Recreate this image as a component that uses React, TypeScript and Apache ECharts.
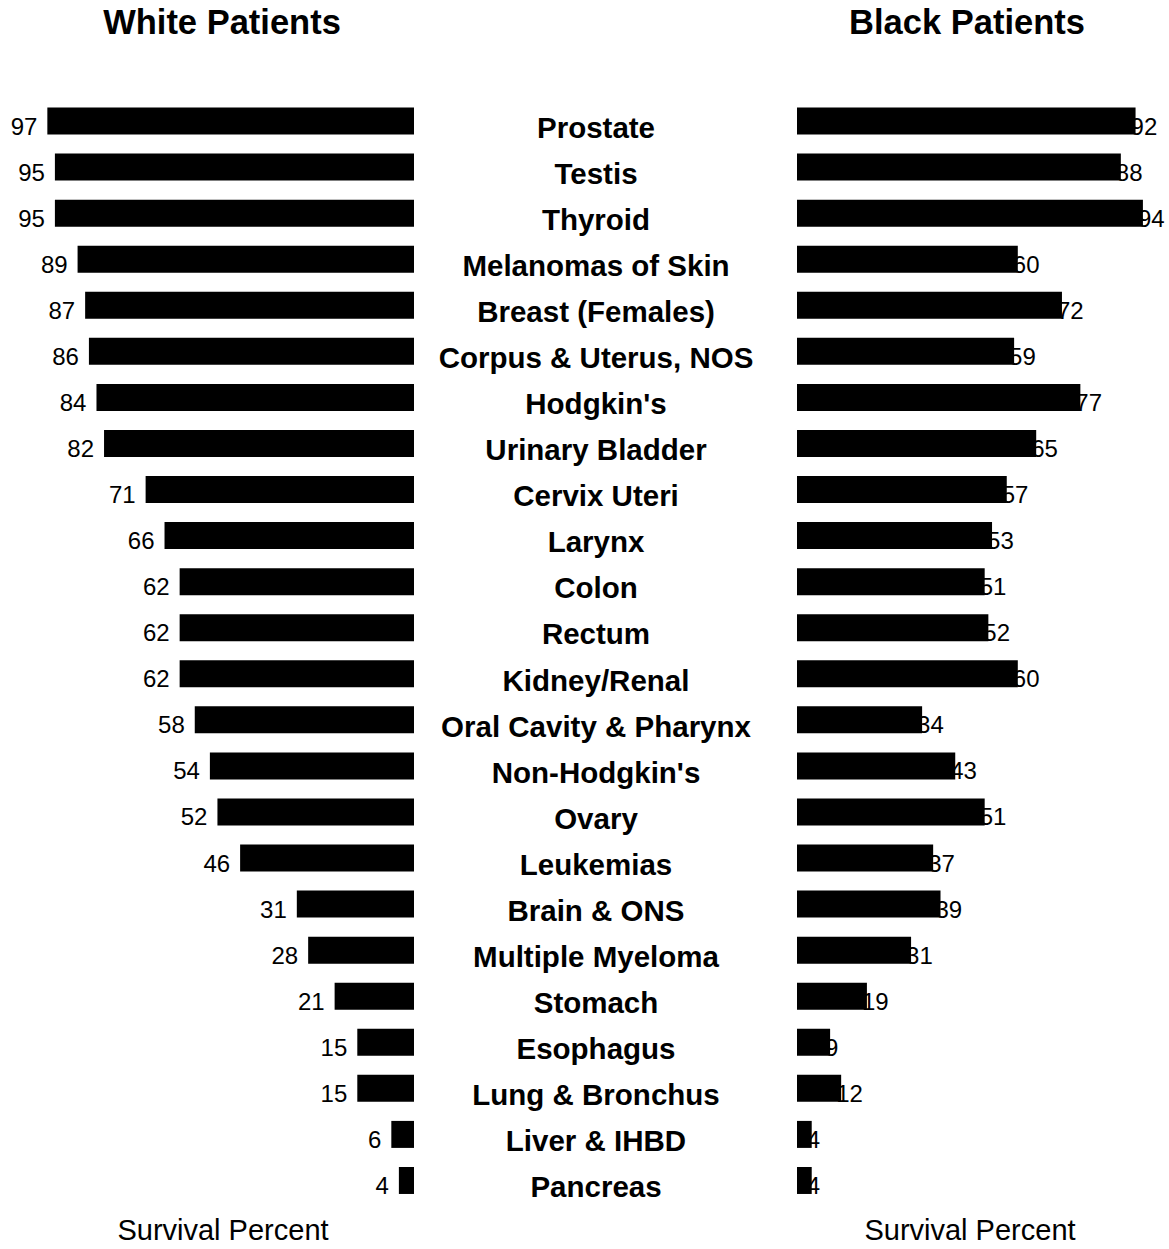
import React, { useEffect, useRef } from "react";
import * as echarts from "echarts";

const categories = [
  "Prostate", "Testis", "Thyroid", "Melanomas of Skin", "Breast (Females)",
  "Corpus & Uterus, NOS", "Hodgkin's", "Urinary Bladder", "Cervix Uteri", "Larynx",
  "Colon", "Rectum", "Kidney/Renal", "Oral Cavity & Pharynx", "Non-Hodgkin's",
  "Ovary", "Leukemias", "Brain & ONS", "Multiple Myeloma", "Stomach",
  "Esophagus", "Lung & Bronchus", "Liver & IHBD", "Pancreas",
];
const whiteSurvival = [97, 95, 95, 89, 87, 86, 84, 82, 71, 66, 62, 62, 62, 58, 54, 52, 46, 31, 28, 21, 15, 15, 6, 4];
const blackSurvival = [92, 88, 94, 60, 72, 59, 77, 65, 57, 53, 51, 52, 60, 34, 43, 51, 37, 39, 31, 19, 9, 12, 4, 4];
const leftTitle = "White Patients";
const rightTitle = "Black Patients";
const axisTitle = "Survival Percent";

const FONT = '"Liberation Sans", Arial, sans-serif';

export default function App() {
  const ref = useRef<HTMLDivElement>(null);
  useEffect(() => {
    document.body.style.margin = "0";
    if (!ref.current) return;
    const chart = echarts.init(ref.current, undefined, { renderer: "svg" });
    const hiddenAxis = {
      axisLine: { show: false },
      axisTick: { show: false },
      axisLabel: { show: false },
      splitLine: { show: false },
    };
    chart.setOption({
      animation: false,
      backgroundColor: "#fff",
      textStyle: { fontFamily: FONT, color: "#000" },
      grid: [
        { left: 36, width: 378, top: 98, height: 1106 },
        { left: 797, width: 368, top: 98, height: 1106 },
        { left: 36, width: 378, top: 104, height: 1106 },
      ],
      xAxis: [
        {
          type: "value", gridIndex: 0, min: 0, max: 100, inverse: true,
          ...hiddenAxis,
          name: axisTitle, nameLocation: "middle", nameGap: 26,
          nameTextStyle: { fontSize: 29, color: "#000", fontFamily: FONT, verticalAlign: "middle", padding: [0, 4, 0, 0] },
        },
        {
          type: "value", gridIndex: 1, min: 0, max: 100,
          ...hiddenAxis,
          name: axisTitle, nameLocation: "middle", nameGap: 26,
          nameTextStyle: { fontSize: 29, color: "#000", fontFamily: FONT, verticalAlign: "middle", padding: [0, 22, 0, 0] },
        },
        {
          type: "value", gridIndex: 2, min: 0, max: 100, show: false,
        },
      ],
      yAxis: [
        {
          type: "category", gridIndex: 0, data: categories, inverse: true,
          ...hiddenAxis,
        },
        {
          type: "category", gridIndex: 1, data: categories, inverse: true,
          ...hiddenAxis,
        },
        {
          type: "category", gridIndex: 2, data: categories, inverse: true, position: "right",
          axisLine: { show: false }, axisTick: { show: false }, splitLine: { show: false },
          axisLabel: {
            show: true, interval: 0, margin: 182, align: "center",
            fontSize: 29.5, fontWeight: "bold", color: "#000", fontFamily: FONT,
          },
        },
      ],
      graphic: [
        {
          type: "text", x: 222, y: 22,
          style: { text: leftTitle, fontSize: 34.5, fontWeight: "bold", fontFamily: FONT, fill: "#000", align: "center", verticalAlign: "middle" },
        },
        {
          type: "text", x: 967, y: 22,
          style: { text: rightTitle, fontSize: 34.5, fontWeight: "bold", fontFamily: FONT, fill: "#000", align: "center", verticalAlign: "middle" },
        },
      ],
      series: [
        {
          type: "bar", name: "White", xAxisIndex: 0, yAxisIndex: 0, data: whiteSurvival,
          barWidth: 27, itemStyle: { color: "#000" },
          label: { show: true, position: "left", distance: 10, offset: [0, 5], fontSize: 24, color: "#000", fontFamily: FONT },
        },
        {
          type: "bar", name: "BlackLabels", xAxisIndex: 1, yAxisIndex: 1, data: blackSurvival,
          barWidth: 27, barGap: "-100%", z: 1, itemStyle: { color: "rgba(0,0,0,0)" },
          label: { show: true, position: "right", distance: 0, offset: [-5, 5], fontSize: 24, color: "#000", fontFamily: FONT },
        },
        {
          type: "bar", name: "Black", xAxisIndex: 1, yAxisIndex: 1, data: blackSurvival,
          barWidth: 27, barGap: "-100%", z: 3, itemStyle: { color: "#000" },
        },
      ],
    });
    return () => chart.dispose();
  }, []);
  return <div ref={ref} style={{ width: 1169, height: 1249 }} />;
}
